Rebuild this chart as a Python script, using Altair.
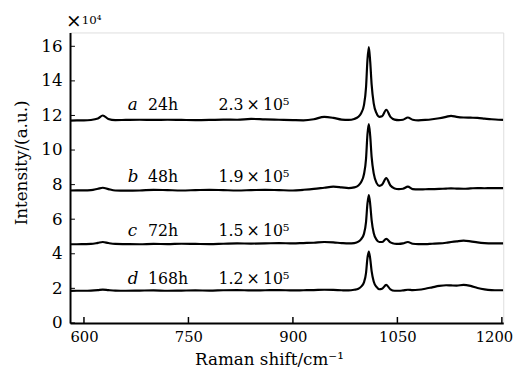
import altair as alt
import pandas as pd

raman_shift = [580, 590, 600, 610, 620, 627, 635, 645, 660, 680, 700, 720, 740, 760, 780,
               800, 820, 840, 860, 880, 900, 915, 930, 945, 958, 970, 980, 988, 994, 998,
               1002, 1005, 1007, 1009, 1011, 1013, 1016, 1020, 1024, 1028, 1034, 1040, 1046, 1052, 1058,
               1065, 1072, 1080, 1090, 1100, 1110, 1120, 1127, 1135, 1145, 1155, 1165, 1175, 1185, 1195, 1202]

intensity_a = [11.70, 11.72, 11.72, 11.74, 11.82, 12.00, 11.80, 11.73, 11.74, 11.75, 11.74, 11.75, 11.74, 11.73, 11.74,
               11.76, 11.75, 11.80, 11.77, 11.75, 11.73, 11.72, 11.78, 11.92, 11.86, 11.76, 11.74, 11.80, 11.92, 12.13,
               12.60, 13.64, 15.20, 15.95, 15.10, 13.80, 12.70, 12.13, 11.92, 11.95, 12.33, 11.92, 11.76, 11.73, 11.75,
               11.88, 11.75, 11.72, 11.74, 11.78, 11.84, 11.92, 11.98, 11.92, 11.88, 11.87, 11.86, 11.82, 11.78, 11.75, 11.74]

intensity_b = [7.66, 7.67, 7.67, 7.68, 7.76, 7.82, 7.74, 7.66, 7.65, 7.66, 7.70, 7.68, 7.66, 7.68, 7.70,
               7.68, 7.66, 7.68, 7.70, 7.68, 7.66, 7.70, 7.75, 7.82, 7.88, 7.84, 7.80, 7.84, 7.95, 8.15,
               8.60, 9.50, 10.90, 11.50, 10.80, 9.60, 8.65, 8.10, 7.93, 8.00, 8.38, 7.95, 7.78, 7.74, 7.76,
               7.88, 7.74, 7.72, 7.73, 7.74, 7.75, 7.77, 7.78, 7.77, 7.76, 7.78, 7.80, 7.79, 7.80, 7.80, 7.80]

intensity_c = [4.55, 4.55, 4.56, 4.57, 4.63, 4.68, 4.62, 4.57, 4.56, 4.55, 4.57, 4.56, 4.58, 4.57, 4.56,
               4.58, 4.60, 4.59, 4.60, 4.62, 4.60, 4.62, 4.64, 4.68, 4.66, 4.62, 4.60, 4.62, 4.70, 4.85,
               5.15, 5.85, 6.90, 7.40, 6.85, 5.95, 5.20, 4.82, 4.68, 4.68, 4.86, 4.66, 4.58, 4.57, 4.60,
               4.68, 4.58, 4.56, 4.56, 4.58, 4.60, 4.64, 4.68, 4.72, 4.76, 4.72, 4.66, 4.62, 4.60, 4.60, 4.60]

intensity_d = [1.85, 1.86, 1.86, 1.87, 1.90, 1.93, 1.90, 1.87, 1.86, 1.87, 1.88, 1.86, 1.87, 1.88, 1.87,
               1.89, 1.90, 1.88, 1.89, 1.90, 1.88, 1.89, 1.90, 1.92, 1.91, 1.89, 1.88, 1.92, 1.98, 2.10,
               2.35, 2.90, 3.75, 4.13, 3.70, 3.00, 2.40, 2.08, 1.95, 1.98, 2.20, 1.94, 1.86, 1.86, 1.88,
               1.92, 1.90, 1.92, 1.98, 2.06, 2.14, 2.18, 2.17, 2.16, 2.20, 2.14, 2.02, 1.94, 1.90, 1.89, 1.89]

series_names = ["a", "b", "c", "d"]
hours = ["24h", "48h", "72h", "168h"]
factors = ["2.3\u2009×\u200910⁵", "1.9\u2009×\u200910⁵", "1.5\u2009×\u200910⁵", "1.2\u2009×\u200910⁵"]
label_y = [12.6, 8.43, 5.3, 2.56]

x_ticks = [600, 750, 900, 1050, 1200]
y_ticks = [0, 2, 4, 6, 8, 10, 12, 14, 16]

FONT = "DejaVu Serif"
W, H = 440, 295

rows = []
for name, vals in zip(series_names, [intensity_a, intensity_b, intensity_c, intensity_d]):
    for xv, yv in zip(raman_shift, vals):
        rows.append({"series": name, "shift": xv, "intensity": yv})
df = pd.DataFrame(rows)

lab = pd.DataFrame({"series": series_names, "hours": hours, "factor": factors, "intensity": label_y})
lab["shift_letter"] = 663
lab["shift_hours"] = 692
lab["shift_factor"] = 793

xs = alt.Scale(domain=[580, 1202], nice=False, zero=False)
ys = alt.Scale(domain=[0, 16.8], nice=False)

lines = alt.Chart(df).mark_line(color="black", strokeWidth=2.2, interpolate="monotone", clip=True).encode(
    x=alt.X("shift:Q", scale=xs,
            axis=alt.Axis(values=x_ticks, tickCount=12, format="d", tickSize=0, labelPadding=7, labelFontSize=15,
                          labelFont=FONT, labelColor="black", domainColor="black", domainWidth=2, grid=False,
                          labelOverlap=False, labelFlush=3, labelFlushOffset=11,
                          title="Raman shift/cm⁻¹", titleFont=FONT, titleFontSize=17, titleFontWeight="normal",
                          titleColor="black", titleX=202, titleY=37, titleAlign="center",
                          titleBaseline="middle")),
    y=alt.Y("intensity:Q", scale=ys,
            axis=alt.Axis(values=y_ticks, tickCount=12, tickSize=0, labelPadding=8, labelFontSize=17, labelFont=FONT,
                          labelColor="black", domainColor="black", domainWidth=2, grid=False,
                          labelOverlap=False, labelFlush=False,
                          title="Intensity/(a.u.)", titleFont=FONT, titleFontSize=17, titleFontWeight="normal",
                          titleColor="black", titleX=-49, titleY=132, titleAlign="center",
                          titleBaseline="middle")),
    detail="series:N",
)

ytick_df = pd.DataFrame({"intensity": y_ticks})
xtick_df = pd.DataFrame({"shift": x_ticks})

yticks = alt.Chart(ytick_df).mark_rule(color="black", strokeWidth=1).encode(
    y=alt.Y("intensity:Q", scale=ys), x=alt.value(0), x2=alt.value(5))
xticks = alt.Chart(xtick_df).mark_rule(color="black", strokeWidth=1.5).encode(
    x=alt.X("shift:Q", scale=xs), y=alt.value(H), y2=alt.value(H - 6))

letters = alt.Chart(lab).mark_text(font=FONT, fontSize=17, fontStyle="italic", align="left",
                                   baseline="middle", color="black").encode(
    x=alt.X("shift_letter:Q", scale=xs), y=alt.Y("intensity:Q", scale=ys), text="series:N")
hours_t = alt.Chart(lab).mark_text(font=FONT, fontSize=16, align="left",
                                   baseline="middle", color="black").encode(
    x=alt.X("shift_hours:Q", scale=xs), y=alt.Y("intensity:Q", scale=ys), text="hours:N")
fact_t = alt.Chart(lab).mark_text(font=FONT, fontSize=16, align="left",
                                  baseline="middle", color="black").encode(
    x=alt.X("shift_factor:Q", scale=xs), y=alt.Y("intensity:Q", scale=ys), text="factor:N")

times_sign = alt.Chart(pd.DataFrame({"t": ["×"]})).mark_text(
    font=FONT, fontSize=19, align="left", baseline="middle", color="black").encode(
    x=alt.value(-4), y=alt.value(-12), text="t:N")
ten_four = alt.Chart(pd.DataFrame({"t": ["10⁴"]})).mark_text(
    font=FONT, fontSize=12, align="left", baseline="middle", color="black").encode(
    x=alt.value(12), y=alt.value(-13), text="t:N")

chart = alt.layer(lines, yticks, xticks, letters, hours_t, fact_t, times_sign, ten_four).properties(
    width=W, height=H,
    autosize=alt.AutoSizeParams(type="none"),
    padding={"left": 63, "top": 22, "right": 17, "bottom": 48},
).configure_view(stroke="black", strokeWidth=1.5).configure(background="white")

chart.save("out.html", embed_options={"renderer": "svg", "actions": False})
